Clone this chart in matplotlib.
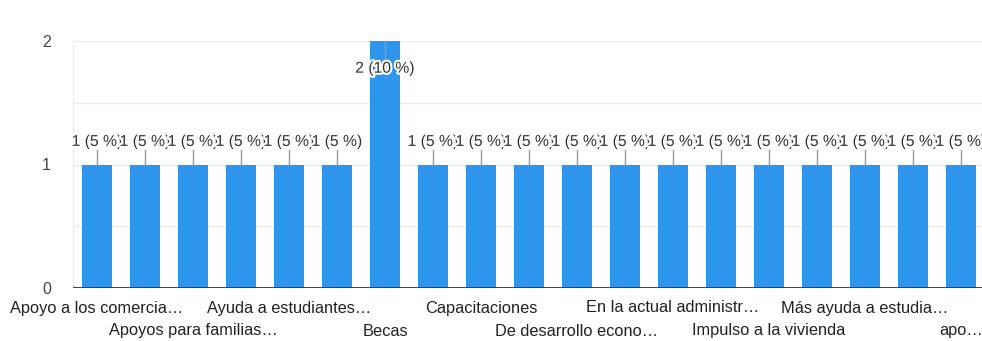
import matplotlib
matplotlib.use("Agg")
import matplotlib.pyplot as plt
import matplotlib.patheffects as pe
from matplotlib.transforms import blended_transform_factory, offset_copy

plt.rcParams['font.family'] = ['Liberation Sans', 'DejaVu Sans']

# Response counts per answer (19 answers, 20 responses in total)
values = [1, 1, 1, 1, 1, 1, 2, 1, 1, 1, 1, 1, 1, 1, 1, 1, 1, 1, 1]

# Axis labels shown under every other bar (alternating rows)
tick_labels = [
    "Apoyo a los comercia…",
    "Apoyos para familias…",
    "Ayuda a estudiantes…",
    "Becas",
    "Capacitaciones",
    "De desarrollo econo…",
    "En la actual administr…",
    "Impulso a la vivienda",
    "Más ayuda a estudia…",
    "apo…",
]
y_ticks = [0, 1, 2]

bar_color = "#2f96f0"
total = sum(values)

fig = plt.figure(figsize=(9.82, 3.41), dpi=100)
ax = fig.add_axes([73 / 982, 53 / 341, 909 / 982, 247 / 341])

x = list(range(len(values)))
ax.bar(x, values, width=0.625, color=bar_color, zorder=2)

ax.set_xlim(-0.5, 18.44)
ax.set_ylim(0, 2)

# grid
for g in [0.5, 1, 1.5, 2]:
    ax.axhline(g, color="#ebebeb", lw=1, zorder=0)
ax.axhline(0, color="#333333", lw=1.3, zorder=3)
ax.axvline(-0.5, color="#ebebeb", lw=1, zorder=0)

for s in ax.spines.values():
    s.set_visible(False)
ax.set_yticks(y_ticks)
ax.set_yticklabels([str(t) for t in y_ticks], fontsize=11.5, color="#444444")
ax.tick_params(axis="y", length=0, pad=16)
ax.set_xticks([])

# value annotations with stems
halo = [pe.withStroke(linewidth=3, foreground="white")]
ymax = max(values)
for xi, v in zip(x, values):
    pct = v / total * 100
    label = f"{v} ({pct:g} %)"
    if v >= ymax:
        ax.plot([xi, xi], [v, v - 0.15], color="#999999", lw=1, zorder=4)
        ax.text(xi, v - 0.22, label, ha="center", va="center", fontsize=11.3,
                color="#333333", path_effects=halo, zorder=5)
    else:
        ax.plot([xi, xi], [v, v + 0.12], color="#999999", lw=1, zorder=4)
        ax.text(xi, v + 0.187, label, ha="center", va="center", fontsize=11.3,
                color="#333333", path_effects=halo, zorder=5)

# category labels on two staggered rows
trans = blended_transform_factory(ax.transData, ax.transAxes)
for i, lab in enumerate(tick_labels):
    xi = 2 * i
    offset = -20 if i % 2 == 0 else -43
    t = offset_copy(trans, fig=fig, y=offset, units="dots")
    ax.text(xi, 0, lab, transform=t, ha="center", va="center", fontsize=11.8,
            color="#222222", clip_on=False)

fig.savefig("out.png", dpi=100, facecolor="white")
